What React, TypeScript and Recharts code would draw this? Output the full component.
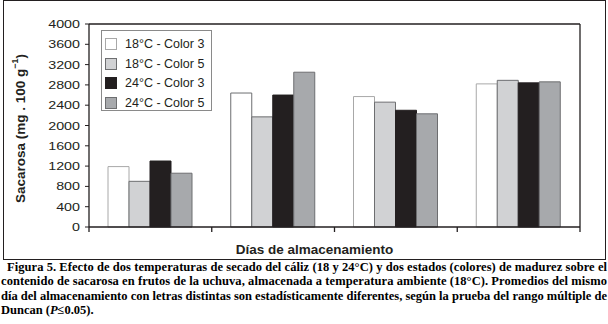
import React from "react";
import { BarChart, Bar, XAxis, YAxis, Legend, Label, CartesianGrid, Cell } from "recharts";

// días de almacenamiento (sin etiqueta visible en el eje)
const categories = ["1", "2", "3", "4"];
const c18Color3 = [1190, 2640, 2570, 2820];
const c18Color5 = [900, 2170, 2460, 2890];
const c24Color3 = [1300, 2600, 2300, 2840];
const c24Color5 = [1060, 3050, 2230, 2860];
const yTicks = [0, 400, 800, 1200, 1600, 2000, 2400, 2800, 3200, 3600, 4000];
const seriesNames = ["18°C - Color 3", "18°C - Color 5", "24°C - Color 3", "24°C - Color 5"];

const fills = ["#ffffff", "#d1d2d4", "#231f20", "#a7a9ac"];
const strokes = ["#a8a8a8", "#6d6e70", "#231f20", "#6d6e70"];
// borde de las barras blancas (el segundo día aparece más oscuro)
const whiteStrokes = ["#a8a8a8", "#6d6e70", "#a8a8a8", "#a8a8a8"];
const ink = "#231f20";
const sans = '"Liberation Sans", Arial, sans-serif';
const serif = '"Liberation Serif", "Times New Roman", serif';

const data = categories.map((d, i) => ({
  dia: d,
  s0: c18Color3[i],
  s1: c18Color5[i],
  s2: c24Color3[i],
  s3: c24Color5[i],
}));

const PLOT_LEFT = 89;
const PLOT_RIGHT = 580;
const BAND = (PLOT_RIGHT - PLOT_LEFT) / categories.length;

const YTick = (props: any) => {
  const { x, y, payload } = props;
  return (
    <g transform={`translate(${x},${y})`}>
      <text textAnchor="end" dy={4} fontSize={11} fill={ink} fontFamily={sans} transform="scale(1.3,1)">
        {payload.value}
      </text>
    </g>
  );
};

// marcas en los límites entre días
const BoundaryTick = (props: any) => {
  const { x, y, index } = props;
  const h = BAND / 2;
  return (
    <g>
      <line x1={x - h} x2={x - h} y1={y} y2={y + 5} stroke={ink} strokeWidth={1.3} />
      {index === categories.length - 1 && (
        <line x1={x + h} x2={x + h} y1={y} y2={y + 5} stroke={ink} strokeWidth={1.3} />
      )}
    </g>
  );
};

const YTitle = (props: any) => {
  const vb = props.viewBox;
  const cx = vb.x + 20;
  const cy = vb.y + vb.height / 2 + 3;
  return (
    <text
      x={cx}
      y={cy}
      transform={`rotate(-90, ${cx}, ${cy})`}
      textAnchor="middle"
      dominantBaseline="central"
      fontFamily={sans}
      fontWeight="bold"
      fontSize={13.5}
      fill={ink}
    >
      Sacarosa (mg . 100 g
      <tspan dy={-5} fontSize={9}>−1</tspan>
      <tspan dy={5}>)</tspan>
    </text>
  );
};

const XTitle = (props: any) => {
  const vb = props.viewBox;
  return (
    <text
      x={vb.x + vb.width / 2 - 20}
      y={254}
      textAnchor="middle"
      fontFamily={sans}
      fontWeight="bold"
      fontSize={13.5}
      fill={ink}
    >
      Días de almacenamiento
    </text>
  );
};

const LegendBox = () => (
  <div
    style={{
      position: "relative",
      width: 111,
      height: 81,
      border: "1px solid #8a8a8a",
      boxSizing: "border-box",
      background: "#fff",
      fontFamily: sans,
      fontSize: 12.5,
      color: ink,
    }}
  >
    {seriesNames.map((n, i) => (
      <div key={n} style={{ position: "absolute", left: 3, top: 5 + i * 19.6, height: 16, display: "flex", alignItems: "center" }}>
        <span
          style={{
            display: "inline-block",
            width: 12,
            height: 12,
            boxSizing: "border-box",
            background: fills[i],
            border: `1px solid ${strokes[i]}`,
          }}
        />
        <span style={{ marginLeft: 8, whiteSpace: "nowrap" }}>{n}</span>
      </div>
    ))}
  </div>
);

const captionLines = [
  "Figura 5. Efecto de dos temperaturas de secado del cáliz (18 y 24°C) y dos estados (colores) de madurez sobre el",
  "contenido de sacarosa en frutos de la uchuva, almacenada a temperatura ambiente (18°C). Promedios del mismo",
  "día del almacenamiento con letras distintas son estadísticamente diferentes, según la prueba del rango múltiple de",
];

export default function App() {
  return (
    <div style={{ position: "absolute", left: 0, top: 0, width: 608, height: 324, background: "#fff" }}>
      <div
        style={{
          position: "absolute",
          left: 3,
          top: 0,
          width: 603,
          height: 260,
          border: `1.5px solid ${ink}`,
          boxSizing: "border-box",
        }}
      />
      <div style={{ position: "absolute", left: 0, top: 0 }}>
        <BarChart
          width={608}
          height={262}
          data={data}
          margin={{ top: 24, right: 28, left: 0, bottom: 5 }}
          barGap={0}
        >
          {/* marco superior y derecho del área de trazado */}
          <CartesianGrid
            stroke={ink}
            strokeWidth={1.3}
            horizontalCoordinatesGenerator={({ offset }: any) => [offset.top]}
            verticalCoordinatesGenerator={({ offset }: any) => [offset.left + offset.width]}
          />
          <XAxis
            dataKey="dia"
            height={30}
            interval={0}
            tickLine={false}
            tickSize={0}
            tickMargin={0}
            tick={<BoundaryTick />}
            axisLine={{ stroke: ink, strokeWidth: 1.3 }}
          >
            <Label content={<XTitle />} />
          </XAxis>
          <YAxis
            width={89}
            domain={[0, 4000]}
            ticks={yTicks}
            interval={0}
            tickSize={4}
            tickMargin={5}
            tick={<YTick />}
            tickLine={{ stroke: ink, strokeWidth: 1 }}
            axisLine={{ stroke: ink, strokeWidth: 1.3 }}
          >
            <Label content={<YTitle />} />
          </YAxis>
          <Legend
            layout="vertical"
            align="center"
            verticalAlign="middle"
            content={<LegendBox />}
            wrapperStyle={{ left: 101, top: 30, width: 111, height: 81 }}
          />
          {["s0", "s1", "s2", "s3"].map((k, i) => (
            <Bar
              key={k}
              dataKey={k}
              name={seriesNames[i]}
              fill={fills[i]}
              stroke={strokes[i]}
              strokeWidth={1}
              barSize={21}
              isAnimationActive={false}
            >
              {i === 0 &&
                categories.map((c, j) => <Cell key={c} fill={fills[0]} stroke={whiteStrokes[j]} />)}
            </Bar>
          ))}
        </BarChart>
      </div>
      <svg
        width={608}
        height={64}
        style={{ position: "absolute", left: 0, top: 260 }}
        fontFamily={serif}
        fontWeight="bold"
        fontSize={12.5}
        fill="#000"
      >
        {captionLines.map((t, i) => (
          <text
            key={i}
            x={i === 0 ? 7 : 1}
            y={10.7 + i * 14.5}
            textLength={i === 0 ? 600 : 606}
            lengthAdjust="spacing"
          >
            {t}
          </text>
        ))}
        <text x={1} y={10.7 + 3 * 14.5}>
          Duncan (<tspan fontStyle="italic">P</tspan>≤0.05).
        </text>
      </svg>
    </div>
  );
}
